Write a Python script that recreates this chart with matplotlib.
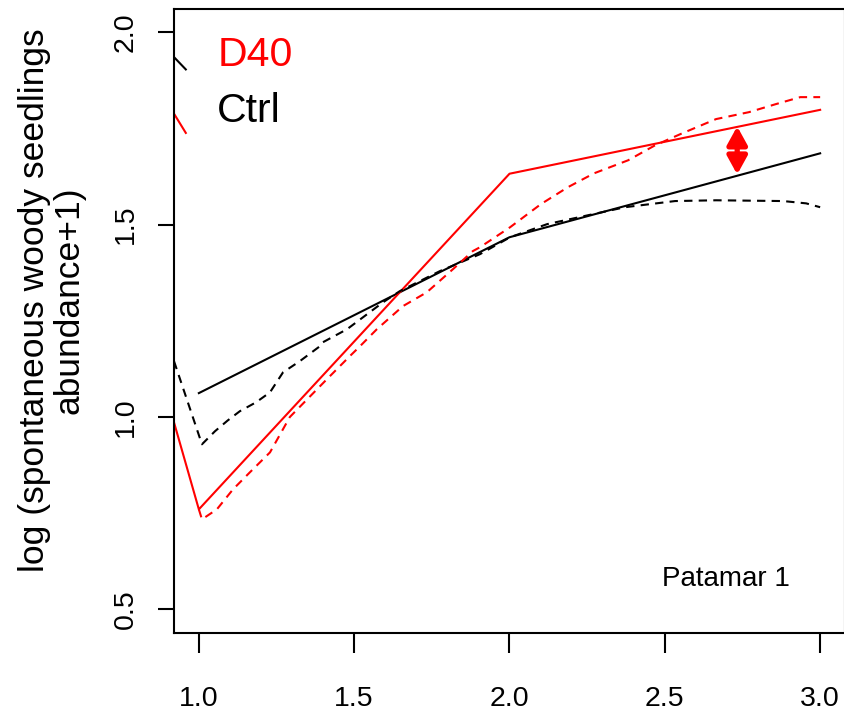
import matplotlib
matplotlib.use("Agg")
import matplotlib.pyplot as plt
from matplotlib.patches import FancyArrowPatch

plt.rcParams['font.family'] = ['Liberation Sans', 'DejaVu Sans']

# fitted (solid) lines
ctrl_x = [1.0, 2.0, 3.0]
ctrl_y = [1.062, 1.467, 1.685]
d40_x = [0.92, 1.0, 2.0, 3.0]
d40_y = [0.986, 0.760, 1.632, 1.798]

# smoothed (dashed) curves
ctrl_sm_x = [0.92, 1.010, 1.052, 1.093, 1.132, 1.184, 1.229, 1.271, 1.325, 1.390, 1.399,
             1.477, 1.593, 1.647, 1.776, 1.905, 2.002, 2.121, 2.372, 2.533, 2.665,
             2.881, 2.955, 3.0]
ctrl_sm_y = [1.145, 0.929, 0.963, 0.991, 1.015, 1.038, 1.064, 1.116, 1.145, 1.184, 1.194,
             1.228, 1.298, 1.327, 1.379, 1.423, 1.467, 1.501, 1.545, 1.561, 1.563,
             1.561, 1.555, 1.545]
d40_sm_x = [1.0, 1.010, 1.058, 1.110, 1.164, 1.229, 1.293, 1.412, 1.486, 1.519, 1.573,
            1.657, 1.734, 1.818, 1.882, 1.905, 2.002, 2.101, 2.188, 2.272, 2.382,
            2.469, 2.556, 2.665, 2.771, 2.858, 2.936, 3.0]
d40_sm_y = [0.760, 0.734, 0.760, 0.812, 0.856, 0.908, 1.000, 1.098, 1.158, 1.184, 1.228,
            1.288, 1.324, 1.384, 1.431, 1.441, 1.493, 1.553, 1.597, 1.633, 1.667,
            1.706, 1.737, 1.774, 1.792, 1.813, 1.831, 1.831]

# stray segments entering at top left
ctrl_top_x = [0.92, 0.958]
ctrl_top_y = [1.935, 1.903]
d40_top_x = [0.92, 0.958]
d40_top_y = [1.788, 1.738]

# arrow between the two fits
arrow_x = 2.733
arrow_y = [1.630, 1.755]

fig = plt.figure(figsize=(8.44, 7.12), dpi=100)
ax = fig.add_axes([174 / 844, (712 - 632.5) / 712, (845 - 174) / 844, (632.5 - 9) / 712])

lw = 1.5
ax.plot(ctrl_x, ctrl_y, color='black', lw=lw)
ax.plot(d40_x, d40_y, color='red', lw=lw)
ax.plot(ctrl_sm_x, ctrl_sm_y, color='black', lw=lw, dashes=(4, 3))
ax.plot(d40_sm_x, d40_sm_y, color='red', lw=lw, dashes=(4, 3))
ax.plot(ctrl_top_x, ctrl_top_y, color='black', lw=lw)
ax.plot(d40_top_x, d40_top_y, color='red', lw=lw)

arr = FancyArrowPatch((arrow_x, arrow_y[0]), (arrow_x, arrow_y[1]),
                      arrowstyle='<|-|>,head_length=0.6,head_width=0.33',
                      mutation_scale=18, color='red', lw=3.8,
                      shrinkA=0, shrinkB=0)
ax.add_patch(arr)

ax.set_xlim(0.92, 3.08)
ax.set_ylim(0.44, 2.06)
ax.set_xticks([1.0, 1.5, 2.0, 2.5, 3.0])
ax.set_xticklabels(['1.0', '1.5', '2.0', '2.5', '3.0'])
ax.set_yticks([0.5, 1.0, 1.5, 2.0])
ax.set_yticklabels(['0.5', '1.0', '1.5', '2.0'], rotation=90, va='center')
ax.tick_params(axis='x', length=14.5, width=1.5, labelsize=20.5, pad=24)
ax.tick_params(axis='y', length=11.5, width=1.5, labelsize=20.5, pad=14)
for s in ax.spines.values():
    s.set_linewidth(1.5)

fig.text(52 / 844, 1 - 300 / 712, 'log (spontaneous woody seedlings\nabundance+1)',
         fontsize=25.5, rotation=90, ha='center', va='center',
         multialignment='center', linespacing=1.05)

ax.text(0.0645, 0.927, 'D40', color='red', fontsize=29.5, transform=ax.transAxes, va='center')
ax.text(0.0645, 0.837, 'Ctrl', color='black', fontsize=29.5, transform=ax.transAxes, va='center')
ax.text(2.49, 0.579, 'Patamar 1', fontsize=20, va='center')

fig.savefig('out.png', dpi=100)
